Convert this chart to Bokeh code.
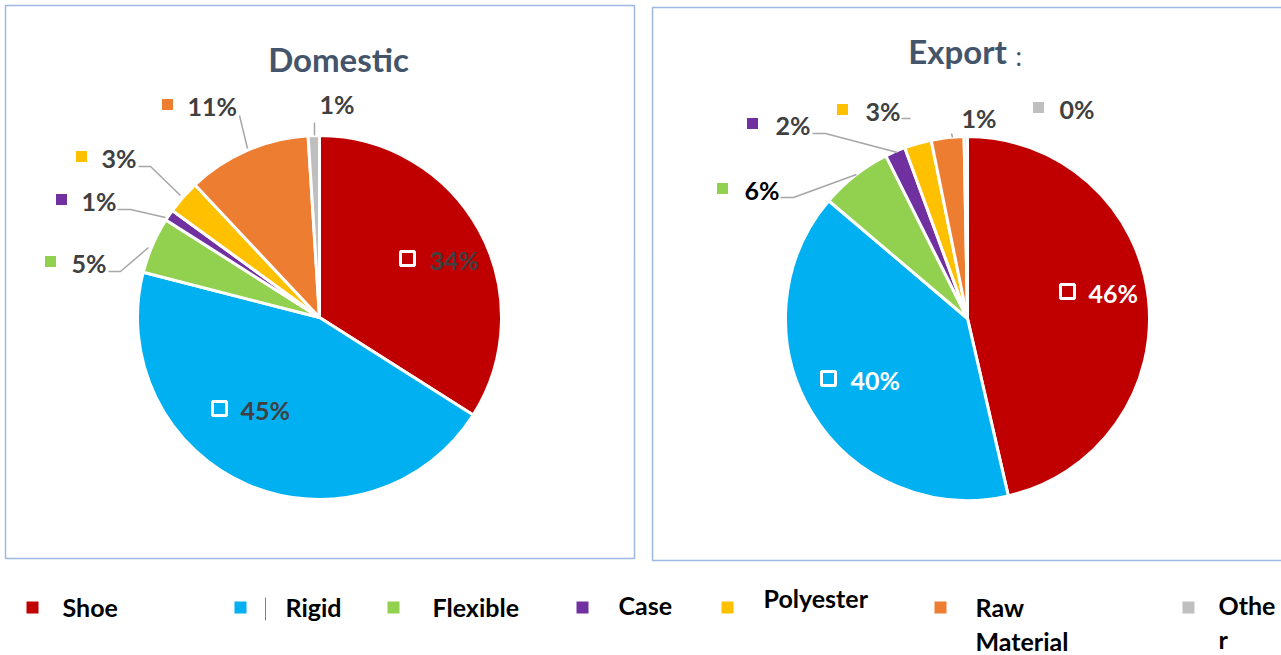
import math
from bokeh.plotting import figure
from bokeh.models import Range1d
from bokeh.core.properties import value
from bokeh.embed import file_html
from bokeh.resources import INLINE

W, H = 1281, 655

# ---------------- data ----------------
categories = ["Shoe", "Rigid", "Flexible", "Case", "Polyester", "Raw Material", "Other"]
legend_labels = ["Shoe", "Rigid", "Flexible", "Case", "Polyester", "Raw\nMaterial", "Othe\nr"]
colors = ["#C00000", "#00B0F0", "#92D050", "#7030A0", "#FFC000", "#ED7D31", "#BFBFBF"]

domestic_values = [34, 45, 5, 1, 3, 11, 1]
domestic_labels = ["34%", "45%", "5%", "1%", "3%", "11%", "1%"]

export_values = [46.4, 39.8, 6.4, 1.8, 2.4, 2.9, 0.3]
export_labels = ["46%", "40%", "6%", "2%", "3%", "1%", "0%"]

titles = ["Domestic", "Export"]

# ---------------- layout (screen px, y from top) ----------------
FONT = value("Lato")
TXT = "#404040"
LEAD = "#A6A6A6"

def Y(y):
    return H - y

p = figure(width=W, height=H, x_range=Range1d(0, W), y_range=Range1d(0, H),
           output_backend="svg", toolbar_location=None, min_border=0)
p.axis.visible = False
p.grid.visible = False
p.outline_line_color = None
p.background_fill_color = "white"
p.border_fill_color = "white"

# panel borders
p.quad(left=[5, 652], right=[634, 1295], top=[Y(5), Y(7)], bottom=[Y(558), Y(560)],
       fill_color=None, line_color="#9DB9E3", line_width=1.5)

R = 182

def draw_pie(cx, cy, vals):
    tot = sum(vals)
    cum = 0.0
    starts, ends = [], []
    for v in vals:
        a0 = math.pi / 2 - 2 * math.pi * cum / tot
        cum += v
        a1 = math.pi / 2 - 2 * math.pi * cum / tot
        starts.append(a0)
        ends.append(a1)
    p.wedge(x=[cx] * len(vals), y=[Y(cy)] * len(vals), radius=R,
            start_angle=starts, end_angle=ends, direction="clock",
            fill_color=colors, line_color="white", line_width=3)

draw_pie(319, 317, domestic_values)
draw_pie(967, 318, export_values)

# label layouts: (marker_x, text_x, y, kind, leader points)
dom_layout = [
    (407, 429, 259, "in", None),
    (219, 240, 409, "in", None),
    (50, 71, 262, "out", [(108, 271), (120, 271), (148, 247)]),
    (61, 81, 200, "out", [(117, 209), (130, 209), (165, 217)]),
    (81, 101, 157, "out", [(138, 166), (150, 166), (180, 195)]),
    (167, 187, 105, "out", [(239, 115), (247, 148)]),
    (None, 319, 103, "out", [(314, 122), (314, 135)]),
]
exp_layout = [
    (1067, 1088, 292, "inw", None),
    (828, 850, 379, "inw", None),
    (722, 744, 189, "out", [(780, 197), (793, 197), (856, 174)]),
    (752, 775, 124, "out", [(812, 133), (825, 133), (897, 152)]),
    (842, 865, 110, "out", [(901, 118), (910, 118)]),
    (None, 961, 117, "out", [(951, 133), (952, 137)]),
    (1038, 1059, 108, "out", None),
]

def draw_labels(layout, labels):
    for i, (mx, tx, ty, kind, lead) in enumerate(layout):
        if lead:
            p.line([q[0] for q in lead], [Y(q[1]) for q in lead], line_color=LEAD, line_width=1.5)
        if mx is not None:
            if kind == "out":
                p.scatter([mx], [Y(ty - 1)], marker="square", size=11,
                          fill_color=colors[i], line_color=None)
            else:
                p.scatter([mx], [Y(ty - 1)], marker="square", size=14,
                          fill_color=None, line_color="white", line_width=3)
        col = "white" if kind == "inw" else ("black" if labels[i] == "6%" else TXT)
        p.text([tx], [Y(ty)], text=[labels[i]], text_font=FONT, text_font_style="bold",
               text_font_size="25px", text_color=col, text_baseline="middle", text_align="left")

draw_labels(dom_layout, domestic_labels)
draw_labels(exp_layout, export_labels)

# titles
p.text([338], [Y(58)], text=[titles[0]], text_font=FONT, text_font_style="bold",
       text_font_size="33px", text_color="#44546A", text_baseline="middle", text_align="center")
p.text([957], [Y(50)], text=[titles[1]], text_font=FONT, text_font_style="bold",
       text_font_size="33px", text_color="#44546A", text_baseline="middle", text_align="center")
p.text([1015], [Y(55)], text=[":"], text_font=FONT, text_font_size="26px",
       text_color="#44546A", text_baseline="middle", text_align="left")

# legend
leg_mx = [32, 240, 393, 582, 727, 940, 1188]
leg_tx = [62, 285, 432, 618, 763, 975, 1218]
leg_ty = [606, 606, 606, 604, 597, 606, 604]
p.scatter(leg_mx, [Y(607)] * 7, marker="square", size=12, fill_color=colors, line_color=None)
p.text(leg_tx, [Y(t - 15) for t in leg_ty], text=legend_labels, text_font=FONT,
       text_font_style="bold", text_font_size="25px", text_color="black",
       text_baseline="top", text_align="left", text_line_height=1.15)
p.line([265, 265], [Y(597), Y(620)], line_color="#808080", line_width=1)

open("out.html", "w").write(file_html(p, INLINE))
